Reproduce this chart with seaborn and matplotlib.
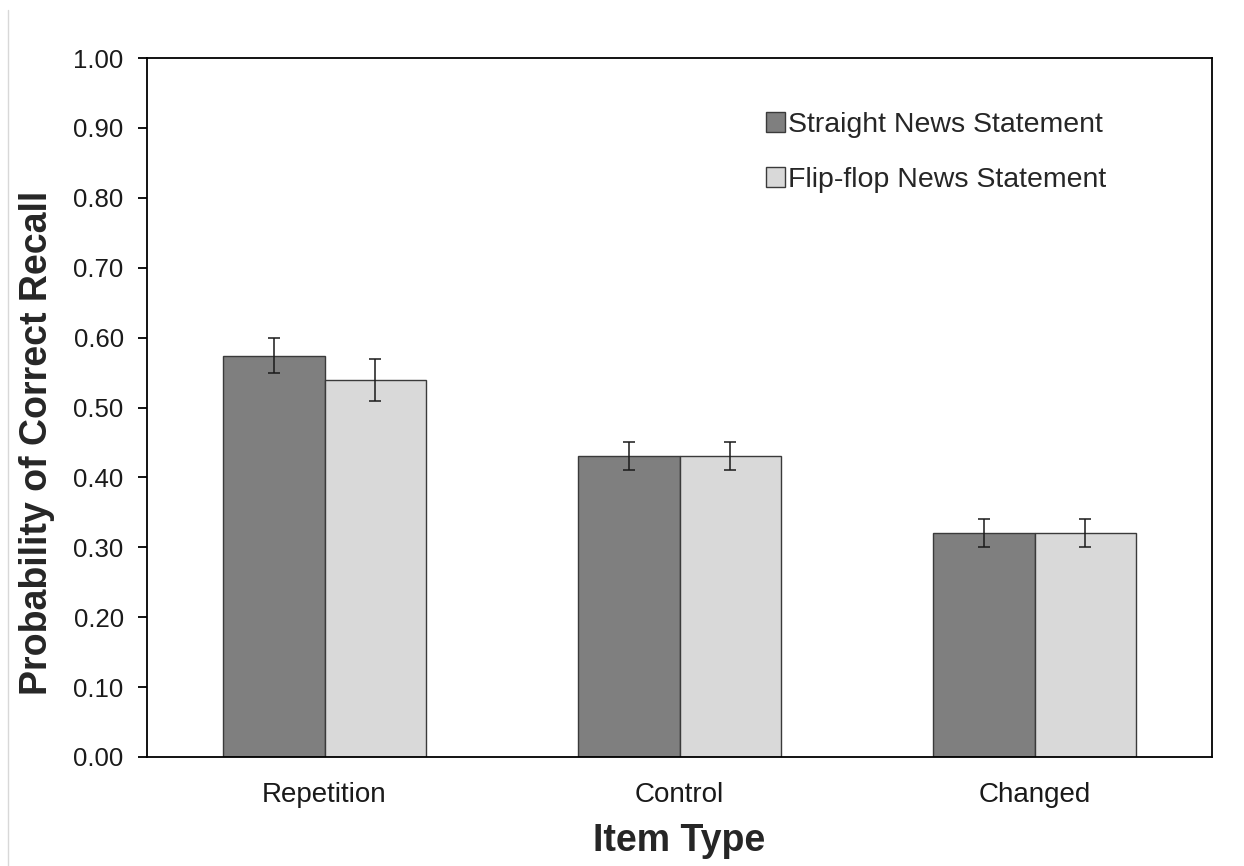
import matplotlib
matplotlib.use("Agg")
import matplotlib.pyplot as plt
import seaborn as sns
import pandas as pd
import numpy as np
from matplotlib.lines import Line2D
from matplotlib.patches import Patch

item_types = ["Repetition", "Control", "Changed"]
series = ["Straight News Statement", "Flip-flop News Statement"]
straight_vals = [0.574, 0.43, 0.32]
flipflop_vals = [0.54, 0.43, 0.32]
straight_err = [0.025, 0.02, 0.02]
flipflop_err = [0.03, 0.02, 0.02]
colors = ["#7f7f7f", "#d9d9d9"]
y_ticks = [0.0, 0.1, 0.2, 0.3, 0.4, 0.5, 0.6, 0.7, 0.8, 0.9, 1.0]

df = pd.DataFrame({
    "Item Type": item_types * 2,
    "Statement": [series[0]] * 3 + [series[1]] * 3,
    "Prob": straight_vals + flipflop_vals,
    "Err": straight_err + flipflop_err,
})

sns.set_theme(style="white")
plt.rcParams["font.family"] = ["Liberation Sans", "DejaVu Sans"]

W, H = 1244, 866
fig = plt.figure(figsize=(W / 100, H / 100), dpi=100)
ax = fig.add_axes([147 / W, 1 - 757 / H, (1212 - 147) / W, (757 - 58) / H])

sns.barplot(data=df, x="Item Type", y="Prob", hue="Statement", order=item_types,
            hue_order=series, palette=colors, width=0.57, errorbar=None,
            edgecolor="#3a3a3a", linewidth=1.0, ax=ax, legend=False, saturation=1)

# error bars centered on each drawn bar
for cont, s in zip(ax.containers, series):
    sub = df[df["Statement"] == s].set_index("Item Type").loc[item_types]
    xs = [p.get_x() + p.get_width() / 2 for p in cont.patches]
    ax.errorbar(xs, sub["Prob"].values, yerr=sub["Err"].values, fmt="none",
                ecolor="#1a1a1a", elinewidth=1.1, capsize=4.6, capthick=1.1)

ax.set_xlim(-0.5, 2.5)
ax.set_ylim(0, 1.0)
ax.set_yticks(y_ticks)
ax.set_yticklabels([f"{v:.2f}" for v in y_ticks])
for sp in ax.spines.values():
    sp.set_visible(True)
    sp.set_color("black")
    sp.set_linewidth(1.3)
ax.tick_params(axis="y", which="both", left=True, length=6.8, width=1.3,
               direction="out", labelsize=18.5, pad=10, color="black", labelcolor="#1a1a1a")
ax.tick_params(axis="x", bottom=False, labelsize=20, pad=12, labelcolor="#1a1a1a")

ax.set_xlabel("Item Type", fontsize=27, fontweight="bold")
ax.set_ylabel("Probability of Correct Recall", fontsize=27, fontweight="bold")
ax.xaxis.set_label_coords(0.5, (757 - 851) / 699)
ax.xaxis.label.set_va("baseline")
ax.yaxis.set_label_coords((37 - 147) / 1065, (757 - 443) / 699)
ax.yaxis.label.set_va("center")

handles = [Patch(facecolor=c, edgecolor="#3a3a3a", linewidth=1.0) for c in colors]
ax.legend(handles, series, loc="upper left",
          bbox_to_anchor=((766 - 147) / 1065, (757 - 112) / 699),
          frameon=False, fontsize=20.5, borderpad=0, borderaxespad=0,
          handlelength=0.67, handleheight=0.67,
          handletextpad=0.12, labelspacing=1.02)

# thin border line at the far left of the figure
fig.add_artist(Line2D([8 / W, 8 / W], [0, 1 - 10 / H], color="#d8d8d8",
                      linewidth=1.0, transform=fig.transFigure))

fig.savefig("out.png", dpi=100)
